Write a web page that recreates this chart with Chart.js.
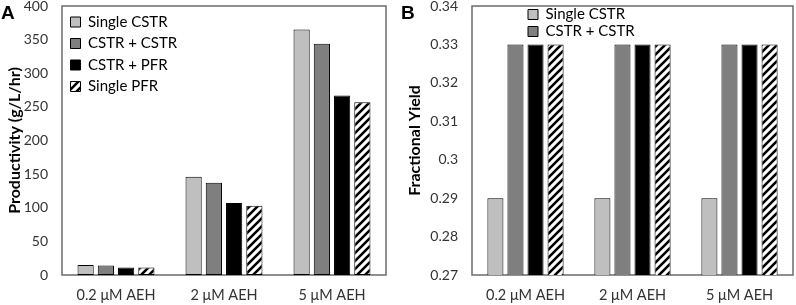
<!DOCTYPE html>
<html><head><meta charset="utf-8">
<script src="https://cdn.jsdelivr.net/npm/chart.js@4.4.0/dist/chart.umd.min.js"></script>
<style>
html,body{margin:0;padding:0;background:#fff;width:796px;height:305px;overflow:hidden;}
#wa{position:absolute;left:0;top:0;width:390px;height:305px;}
#wb{position:absolute;left:390px;top:0;width:406px;height:305px;}
.lbl{position:absolute;font:bold 19px "Liberation Sans",Arial,sans-serif;line-height:1;color:#000;}
</style></head><body>
<div id="wa"><canvas id="ca"></canvas></div>
<div id="wb"><canvas id="cb"></canvas></div>
<div class="lbl" style="left:1px;top:3px">A</div>
<div class="lbl" style="left:401px;top:3px">B</div>
<script>
const categories = ['0.2 μM AEH', '2 μM AEH', '5 μM AEH'];
const seriesNames = ['Single CSTR', 'CSTR + CSTR', 'CSTR + PFR', 'Single PFR'];
const productivitySingleCSTR = [15, 146, 365];
const productivityCSTRCSTR = [14, 137, 344];
const productivityCSTRPFR = [11, 107, 267];
const productivitySinglePFR = [11, 103, 257];
const yieldSingleCSTR = [0.29, 0.29, 0.29];
const yieldCSTRCSTR = [0.33, 0.33, 0.33];
const yieldCSTRPFR = [0.33, 0.33, 0.33];
const yieldSinglePFR = [0.33, 0.33, 0.33];

const FONT = 'Lato, "Open Sans", sans-serif';

function hatch(){
  const c = document.createElement('canvas'); c.width = 8; c.height = 8;
  const g = c.getContext('2d');
  g.fillStyle = '#fff'; g.fillRect(0,0,8,8);
  g.strokeStyle = '#000'; g.lineWidth = 2.6; g.beginPath();
  g.moveTo(-2,10); g.lineTo(10,-2);
  g.moveTo(-2,2); g.lineTo(2,-2);
  g.moveTo(6,10); g.lineTo(10,6);
  g.stroke();
  return g.createPattern(c, 'repeat');
}
const fills = ['#bfbfbf', '#7f7f7f', '#000000', hatch()];

const frame = { id:'frame', beforeDatasetsDraw(chart){
  const {ctx, chartArea:a} = chart;
  ctx.save(); ctx.strokeStyle = '#6b6b6b'; ctx.lineWidth = 1.5;
  ctx.strokeRect(a.left, a.top, a.right - a.left, a.bottom - a.top);
  ctx.restore();
}};
function legendShift(dx, dy){
  return { id:'legendShift', afterLayout(chart){
    const l = chart.legend; if (!l) return;
    l.left += dx; l.right += dx; l.top += dy; l.bottom += dy;
  }};
}

function makeChart(id, series, yMin, yMax, yStep, title, axisW, padRight, maxItems, legPad, dx, dy, titlePad){
  const datasets = series.map((d, i) => ({
    label: seriesNames[i], data: d, backgroundColor: fills[i],
    borderColor: '#000', borderWidth: 1, borderSkipped: false,
    barPercentage: 0.8, categoryPercentage: 0.75
  }));
  return new Chart(document.getElementById(id), {
    type: 'bar',
    data: { labels: categories, datasets },
    plugins: [frame, legendShift(dx, dy)],
    options: {
      responsive: true, maintainAspectRatio: false, animation: false, devicePixelRatio: 1,
      layout: { padding: { top: 6, right: padRight, bottom: 0, left: 0 } },
      plugins: {
        tooltip: { enabled: false },
        legend: {
          position: 'chartArea', align: 'start',
          labels: {
            boxWidth: 10, boxHeight: 10, padding: legPad, color: '#000',
            font: { family: FONT, size: 15 },
            filter: (item) => item.datasetIndex < maxItems
          }
        }
      },
      scales: {
        x: {
          grid: { display: false, drawTicks: false }, border: { display: false },
          ticks: { color: '#333', font: { family: FONT, size: 14.5 }, padding: 12, maxRotation: 0 },
          afterFit: (s) => { s.height = 30; s.paddingLeft = 0; s.paddingRight = 0; }
        },
        y: {
          min: yMin, max: yMax,
          grid: { display: false, drawTicks: false }, border: { display: false },
          ticks: { stepSize: yStep, color: '#333', font: { family: FONT, size: 14 }, padding: 14,
                   callback: (v) => String(Number(v.toFixed(4))) },
          title: { display: true, text: title, color: '#000', font: { family: FONT, size: 16, weight: 'bold' },
                   padding: { top: titlePad, bottom: 0 } },
          afterFit: (s) => { s.width = axisW; s.paddingTop = 0; s.paddingBottom = 0; }
        }
      }
    }
  });
}

makeChart('ca', [productivitySingleCSTR, productivityCSTRCSTR, productivityCSTRPFR, productivitySinglePFR],
  0, 400, 50, 'Productivity (g/L/hr)', 62, 4, 4, 6.5, 2, 8, 5);
makeChart('cb', [yieldSingleCSTR, yieldCSTRCSTR, yieldCSTRPFR, yieldSinglePFR],
  0.27, 0.34, 0.01, 'Fractional Yield', 82, 3, 2, 2, 54, 5, 15);
</script>
</body></html>
